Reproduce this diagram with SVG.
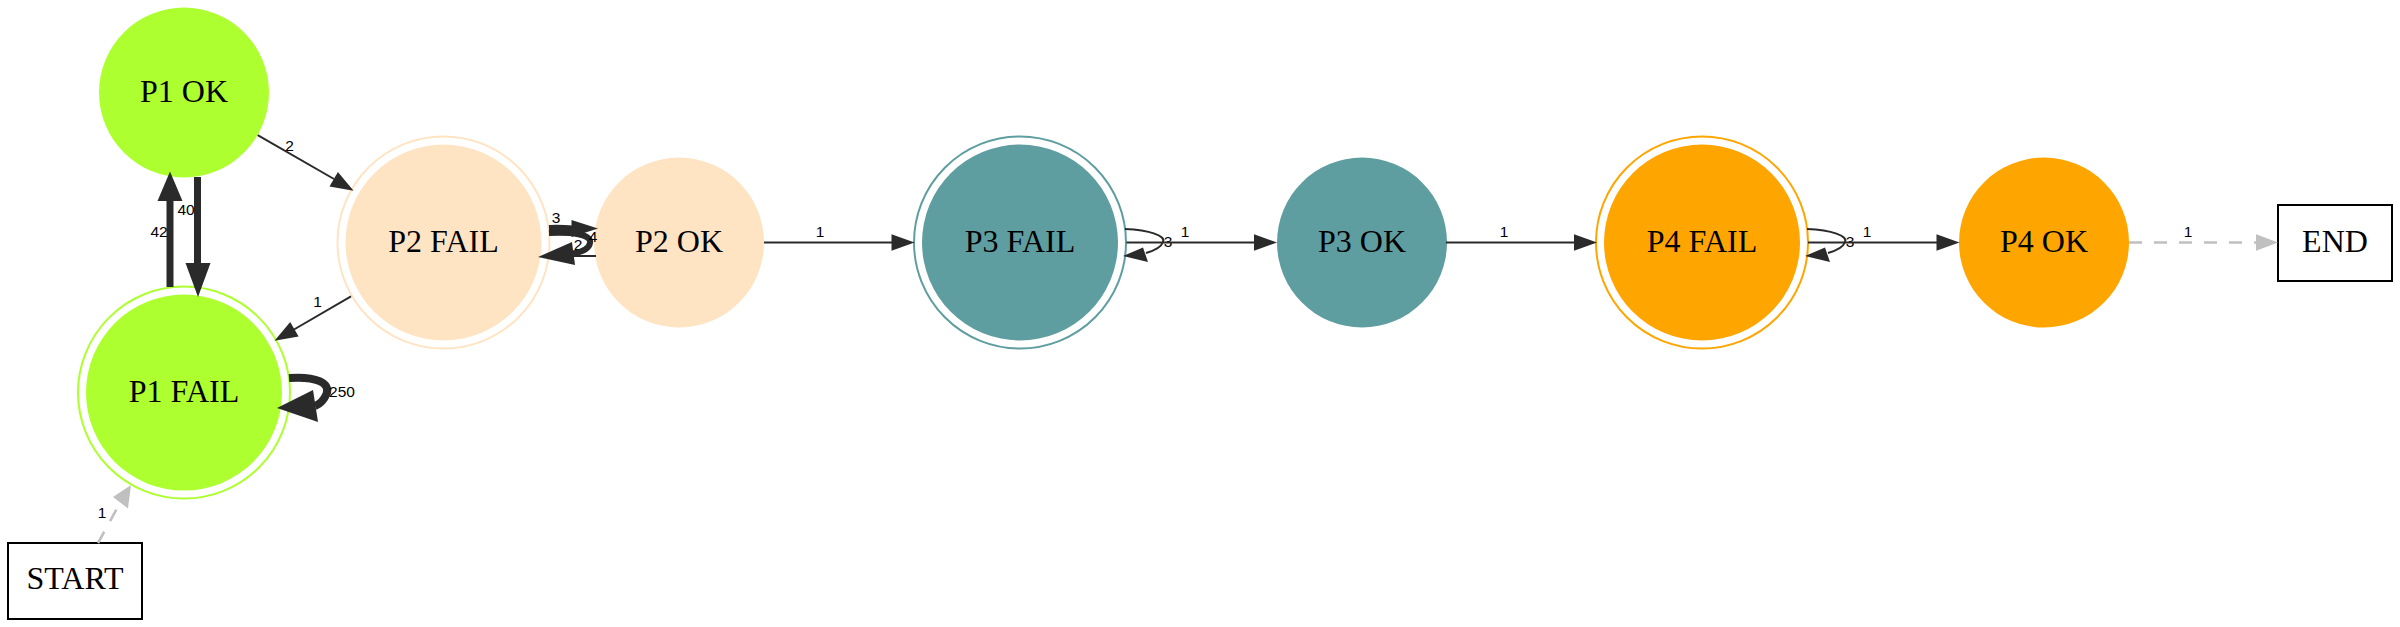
<svg xmlns="http://www.w3.org/2000/svg" width="2400" height="627" viewBox="0 0 2400 627">
<style>
.nl{font-family:"Liberation Serif","Times New Roman",serif;font-size:32px;text-anchor:middle;fill:#000}
.el{font-family:"Liberation Sans",Arial,sans-serif;font-size:15.5px;text-anchor:middle;fill:#000}
.e{fill:none;stroke:#2a2a2a;stroke-width:2}
.ah{fill:#2a2a2a;stroke:none}
.d{fill:none;stroke:#c0c0c0;stroke-width:2.6;stroke-dasharray:13 12}
.dh{fill:#c0c0c0;stroke:none}
.box{fill:#fff;stroke:#000;stroke-width:2}
</style>
<rect width="2400" height="627" fill="#fff"/>
<g id="nodes">
<g id="p1ok"><circle cx="184" cy="92.5" r="85" fill="#adff2f"/><text class="nl" x="184" y="101.5">P1 OK</text></g>
<g id="p1fail"><circle cx="184" cy="392.6" r="106" fill="none" stroke="#adff2f" stroke-width="2"/><circle cx="184" cy="392.6" r="98" fill="#adff2f"/><text class="nl" x="184" y="401.5">P1 FAIL</text></g>
<g id="p2fail"><circle cx="443.5" cy="242.5" r="106" fill="none" stroke="#ffe4c4" stroke-width="2"/><circle cx="443.5" cy="242.5" r="98" fill="#ffe4c4"/><text class="nl" x="443.5" y="251.5">P2 FAIL</text></g>
<g id="p2ok"><circle cx="679" cy="242.5" r="85" fill="#ffe4c4"/><text class="nl" x="679" y="251.5">P2 OK</text></g>
<g id="p3fail"><circle cx="1020" cy="242.5" r="106" fill="none" stroke="#5f9ea0" stroke-width="2"/><circle cx="1020" cy="242.5" r="98" fill="#5f9ea0"/><text class="nl" x="1020" y="251.5">P3 FAIL</text></g>
<g id="p3ok"><circle cx="1362" cy="242.5" r="85" fill="#5f9ea0"/><text class="nl" x="1362" y="251.5">P3 OK</text></g>
<g id="p4fail"><circle cx="1702" cy="242.5" r="106" fill="none" stroke="#ffa500" stroke-width="2"/><circle cx="1702" cy="242.5" r="98" fill="#ffa500"/><text class="nl" x="1702" y="251.5">P4 FAIL</text></g>
<g id="p4ok"><circle cx="2044" cy="242.5" r="85" fill="#ffa500"/><text class="nl" x="2044" y="251.5">P4 OK</text></g>
<g id="start"><rect class="box" x="8" y="543" width="134" height="76"/><text class="nl" x="75" y="589">START</text></g>
<g id="end"><rect class="box" x="2278" y="205" width="114" height="76"/><text class="nl" x="2335" y="251.5">END</text></g>
</g>
<g id="connectors">
<g id="e_start_p1fail"><path class="d" d="M98,543 L120,503"/><polygon class="dh" points="131,485 128,508.5 113,497"/><text class="el" x="102" y="517.5">1</text></g>
<g id="e_p1fail_p1ok"><path class="e" style="stroke-width:7" d="M170,287 L170,200"/><polygon class="ah" points="170,171.5 182.5,201 157.5,201"/><text class="el" x="159" y="236.5">42</text></g>
<g id="e_p1ok_p1fail"><path class="e" style="stroke-width:7" d="M197.5,177 L197.5,264"/><polygon class="ah" points="198,297 210.5,263 185.5,263"/><text class="el" x="186" y="215">40</text></g>
<g id="e_p1fail_loop"><path class="e" style="stroke-width:8" d="M289,378 C316,376 331,383 326.5,394 C324,400 320,404 315,406"/><polygon class="ah" points="277,408 313,390 318,422"/><text class="el" x="342" y="397">250</text></g>
<g id="e_p1ok_p2fail"><path class="e" d="M257.7,135.2 L334,179"/><polygon class="ah" points="353.6,190.8 329.5,186.4 337.9,172"/><text class="el" x="289.5" y="151">2</text></g>
<g id="e_p2fail_p1fail"><path class="e" d="M351,296.4 L294,329.5"/><polygon class="ah" points="274.5,340.8 298.6,336.5 290.2,322.1"/><text class="el" x="317.5" y="307">1</text></g>
<g id="e_p2fail_p2ok"><path class="e" style="stroke-width:6" d="M549,228 Q560,227.5 573,228.5"/><polygon class="ah" points="598,228.5 571.5,237 571.5,220"/><text class="el" x="556" y="222.5">3</text></g>
<g id="e_p2ok_p2fail"><path class="e" d="M596,256 L568,256"/><polygon class="ah" points="549,257 570,250 570,263"/><text class="el" x="578" y="250">2</text></g>
<g id="e_p2fail_loop"><path class="e" style="stroke-width:6" d="M549,233 C571,232 592,234 590,243 C589,249 582,252 573,253.5"/><polygon class="ah" points="538,257 572,242 575,265"/><text class="el" x="593" y="242">4</text></g>
<g id="e_p2ok_p3fail"><path class="e" d="M764,242.5 L892,242.5"/><polygon class="ah" points="914.5,242.5 891.5,250.8 891.5,234.2"/><text class="el" x="820" y="237">1</text></g>
<g id="e_p3fail_loop"><path class="e" d="M1125,229 C1150,230 1166,236 1163,242 C1161,248 1153,251 1146,253"/><polygon class="ah" points="1123,256 1143,247.5 1148,262"/><text class="el" x="1168" y="246.5">3</text></g>
<g id="e_p3fail_p3ok"><path class="e" d="M1126.5,242.5 L1255,242.5"/><polygon class="ah" points="1277,242.5 1254,250.8 1254,234.2"/><text class="el" x="1185" y="237">1</text></g>
<g id="e_p3ok_p4fail"><path class="e" d="M1446,242.5 L1575,242.5"/><polygon class="ah" points="1597,242.5 1574,250.8 1574,234.2"/><text class="el" x="1504" y="237">1</text></g>
<g id="e_p4fail_loop"><path class="e" d="M1807,229 C1832,230 1848,236 1845,242 C1843,248 1835,251 1828,253"/><polygon class="ah" points="1805,256 1825,247.5 1830,262"/><text class="el" x="1850" y="246.5">3</text></g>
<g id="e_p4fail_p4ok"><path class="e" d="M1808,242.5 L1937,242.5"/><polygon class="ah" points="1959.5,242.5 1936.5,250.8 1936.5,234.2"/><text class="el" x="1867" y="237">1</text></g>
<g id="e_p4ok_end"><path class="d" d="M2129,242.5 L2256,242.5"/><polygon class="dh" points="2278,242.5 2256,250.8 2256,234.2"/><text class="el" x="2188" y="236.5">1</text></g>
</g>
</svg>
